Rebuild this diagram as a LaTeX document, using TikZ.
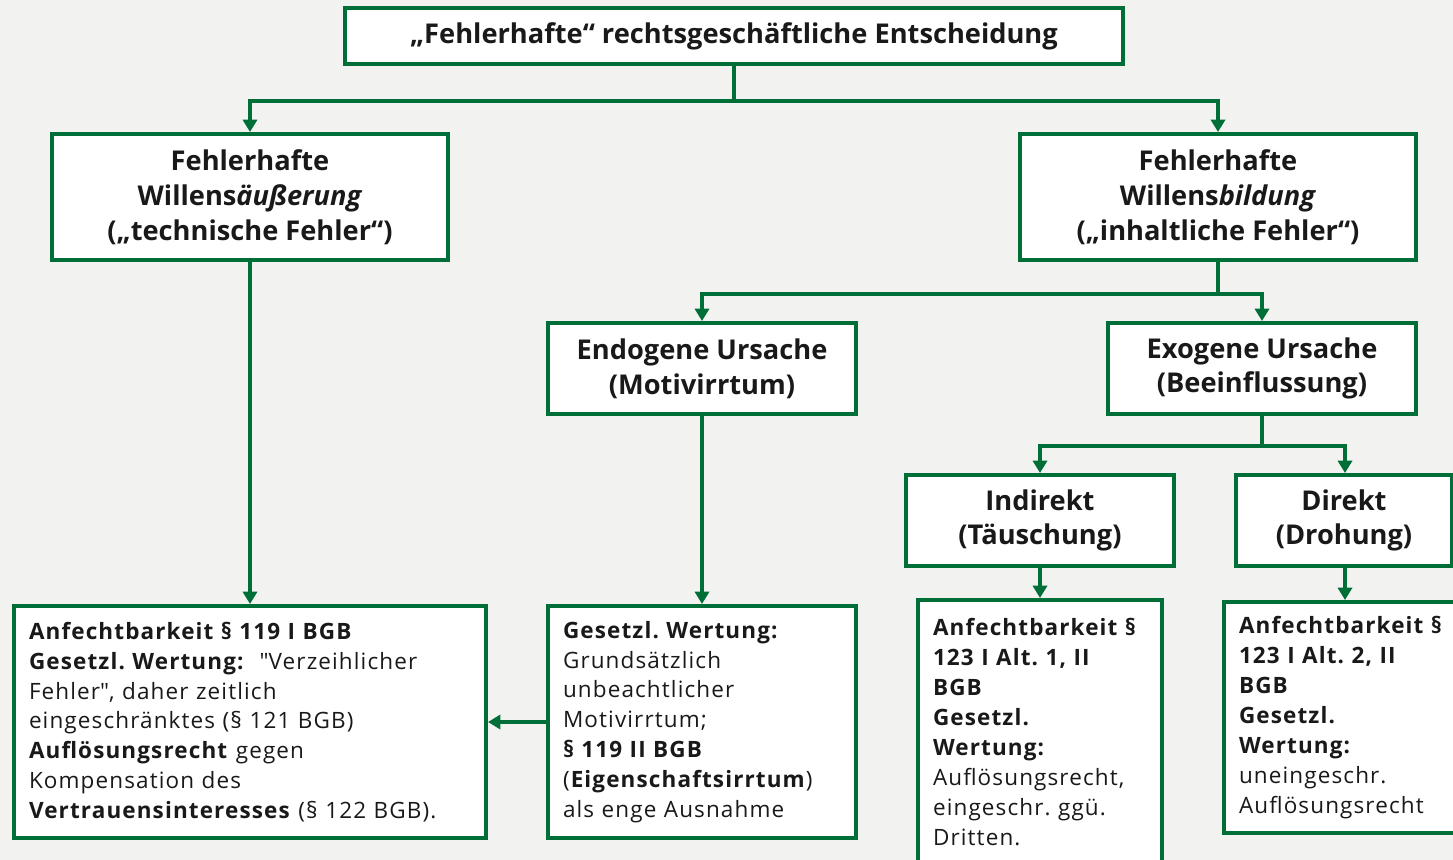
\documentclass[tikz,border=0pt]{standalone}
\usepackage{fontspec}
\setmainfont{Open Sans}
\newfontfamily\bodyfont{Open Sans}[LetterSpace=5]
\usetikzlibrary{arrows.meta}
\definecolor{fgreen}{RGB}{0,110,55}
\definecolor{bggray}{RGB}{242,242,240}
\definecolor{txt}{RGB}{25,25,25}
\frenchspacing
\begin{document}
\begin{tikzpicture}[
    box/.style={draw=fgreen, line width=2.3pt, fill=white, text=txt, align=center,
        inner sep=2pt, font=\fontsize{15.5}{19.8}\selectfont\bfseries},
    textbox/.style={draw=fgreen, line width=2.3pt, fill=white, text=txt, align=left,
        inner xsep=0.3cm, inner ysep=2pt, font=\bodyfont\fontsize{12.8}{17}\selectfont},
    conn/.style={draw=fgreen, line width=2.3pt, -{Triangle[width=8pt,length=7pt]}}
]
    \fill[bggray] (0,0) rectangle (29.06,-17.2);
    \useasboundingbox (0,0) rectangle (29.06,-17.2);

    \node[box, minimum width=15.56cm, minimum height=1.12cm] (top) at (14.68,-0.72)
        {„Fehlerhafte“ rechtsgeschäftliche Entscheidung};
    \node[box, minimum width=7.92cm, minimum height=2.52cm] (aeuss) at (5.0,-3.94)
        {Fehlerhafte\\Willens\textit{äußerung}\\(„technische Fehler“)};
    \node[box, minimum width=7.92cm, minimum height=2.52cm] (bild) at (24.36,-3.94)
        {Fehlerhafte\\Willens\textit{bildung}\\(„inhaltliche Fehler“)};
    \node[box, minimum width=6.16cm, minimum height=1.82cm] (endo) at (14.04,-7.37)
        {Endogene Ursache\\(Motivirrtum)};
    \node[box, minimum width=6.16cm, minimum height=1.82cm] (exo) at (25.24,-7.37)
        {Exogene Ursache\\(Beeinflussung)};
    \node[box, minimum width=5.36cm, minimum height=1.82cm] (indir) at (20.8,-10.41)
        {Indirekt\\(Täuschung)};
    \node[box, minimum width=4.32cm, minimum height=1.82cm] (dir) at (26.88,-10.41)
        {Direkt\\(Drohung)};

    \node[textbox, text width=8.84cm, minimum height=4.64cm] (irrtum) at (5.0,-14.44)
        {\textbf{Anfechtbarkeit § 119 I BGB}\\
         \textbf{Gesetzl. Wertung:}\ \ \textquotedbl Verzeihlicher\\
         Fehler\textquotedbl, daher zeitlich\\
         eingeschränktes (§ 121 BGB)\\
         \textbf{Auflösungsrecht} gegen\\
         Kompensation des\\
         \textbf{Vertrauensinteresses} (§ 122 BGB).};
    \node[textbox, text width=5.56cm, minimum height=4.64cm] (motiv) at (14.04,-14.44)
        {\textbf{Gesetzl. Wertung:}\\
         Grundsätzlich\\
         unbeachtlicher\\
         Motivirrtum;\\
         \textbf{§ 119 II BGB}\\
         (\textbf{Eigenschaftsirrtum})\\
         als enge Ausnahme};
    \node[textbox, text width=4.28cm, minimum height=5.28cm] (taeusch) at (20.8,-14.64)
        {\textbf{Anfechtbarkeit §}\\
         \textbf{123 I Alt. 1, II}\\
         \textbf{BGB}\\
         \textbf{Gesetzl.}\\
         \textbf{Wertung:}\\
         Auflösungsrecht,\\
         eingeschr. ggü.\\
         Dritten.};
    \node[textbox, text width=4.3cm, minimum height=4.62cm] (droh) at (26.93,-14.35)
        {\textbf{Anfechtbarkeit §}\\
         \textbf{123 I Alt. 2, II}\\
         \textbf{BGB}\\
         \textbf{Gesetzl.}\\
         \textbf{Wertung:}\\
         uneingeschr.\\
         Auflösungsrecht};

    \draw[conn] (top.south) -- ++(0,-0.7) -| (aeuss.north);
    \draw[conn] (top.south) -- ++(0,-0.7) -| (bild.north);
    \draw[conn] (bild.south) -- ++(0,-0.64) -| (endo.north);
    \draw[conn] (bild.south) -- ++(0,-0.64) -| (exo.north);
    \draw[conn] (exo.south) -- ++(0,-0.6) -| ([xshift=0.0cm]indir.north);
    \draw[conn] (exo.south) -- ++(0,-0.6) -| ([xshift=0.02cm]dir.north);
    \draw[conn] (aeuss.south) -- (irrtum.north);
    \draw[conn] (endo.south) -- (motiv.north);
    \draw[conn] (indir.south) -- (taeusch.north);
    \draw[conn] ([xshift=0.02cm]dir.south) -- ([xshift=0.02cm]dir.south |- droh.north);
    \draw[conn] (motiv.west) -- (irrtum.east);
\end{tikzpicture}
\end{document}
